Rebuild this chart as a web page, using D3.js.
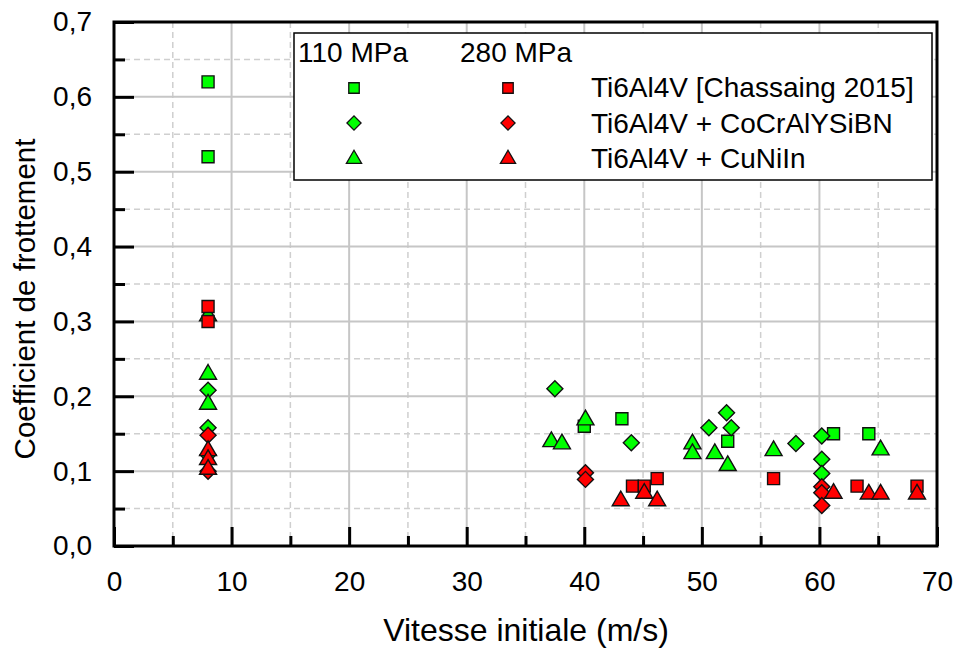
<!DOCTYPE html>
<html>
<head>
<meta charset="utf-8">
<script src="https://cdn.jsdelivr.net/npm/d3@7"></script>
<style>
  body { margin: 0; background: #fff; }
  svg text { font-family: "Liberation Sans", Arial, sans-serif; fill: #000; }
</style>
</head>
<body>
<svg id="chart" width="956" height="650"></svg>
<script>
// Data: [vitesse (m/s), coefficient]
const green_square = [[8, 0.62], [8, 0.52], [40, 0.16], [43.2, 0.17], [52.2, 0.14], [61.2, 0.15], [64.2, 0.15]];
const green_diamond = [[8, 0.208], [8, 0.158], [8, 0.122], [37.5, 0.21], [44, 0.138], [50.6, 0.158],
  [52.1, 0.178], [52.5, 0.158], [58, 0.137], [60.2, 0.147], [60.2, 0.116], [60.2, 0.097]];
const green_triangle = [[8, 0.31], [8, 0.232], [8, 0.192], [37.2, 0.142], [38.1, 0.139], [40.1, 0.171],
  [49.2, 0.139], [49.2, 0.126], [51.1, 0.126], [52.2, 0.11], [56.1, 0.13], [65.2, 0.131]];
const red_square = [[8, 0.32], [8, 0.30], [44.1, 0.08], [45.1, 0.08], [46.2, 0.09], [56.1, 0.09], [63.2, 0.08], [68.3, 0.08]];
const red_diamond = [[8, 0.148], [8, 0.10], [40.1, 0.098], [40.1, 0.089], [60.2, 0.079], [60.2, 0.071], [60.2, 0.054]];
const red_triangle = [[8, 0.13], [8, 0.118], [8, 0.105], [43.1, 0.063], [45.1, 0.073], [46.2, 0.063],
  [61.2, 0.073], [64.2, 0.072], [65.2, 0.072], [68.3, 0.072]];

const materials = ["Ti6Al4V [Chassaing 2015]", "Ti6Al4V + CoCrAlYSiBN", "Ti6Al4V + CuNiIn"];
const pressures = ["110 MPa", "280 MPa"];

const xMajor = [0, 10, 20, 30, 40, 50, 60, 70];
const xMinor = [5, 15, 25, 35, 45, 55, 65];
const yMajor = [0, 0.1, 0.2, 0.3, 0.4, 0.5, 0.6, 0.7];
const yMinor = [0.05, 0.15, 0.25, 0.35, 0.45, 0.55, 0.65];

const GREEN = "#00ff00", RED = "#ff0000";

const svg = d3.select("#chart");
const pLeft = 114, pRight = 937, pTop = 22, pBottom = 546;

const x = d3.scaleLinear().domain([0, 70]).range([pLeft, pRight]);
const y = d3.scaleLinear().domain([0, 0.7]).range([pBottom, pTop]);
const fmt = v => d3.format(".1f")(v).replace(".", ",");

// grid
const grid = svg.append("g");
grid.selectAll(".vmin").data(xMinor).enter().append("line")
  .attr("x1", d => x(d)).attr("x2", d => x(d)).attr("y1", pTop).attr("y2", pBottom)
  .attr("stroke", "#cfcfcf").attr("stroke-width", 1.5).attr("stroke-dasharray", "6,4");
grid.selectAll(".hmin").data(yMinor).enter().append("line")
  .attr("y1", d => y(d)).attr("y2", d => y(d)).attr("x1", pLeft).attr("x2", pRight)
  .attr("stroke", "#cfcfcf").attr("stroke-width", 1.5).attr("stroke-dasharray", "6,4");
grid.selectAll(".vmaj").data(xMajor.slice(1, -1)).enter().append("line")
  .attr("x1", d => x(d)).attr("x2", d => x(d)).attr("y1", pTop).attr("y2", pBottom)
  .attr("stroke", "#c6c6c6").attr("stroke-width", 2);
grid.selectAll(".hmaj").data(yMajor.slice(1, -1)).enter().append("line")
  .attr("y1", d => y(d)).attr("y2", d => y(d)).attr("x1", pLeft).attr("x2", pRight)
  .attr("stroke", "#c6c6c6").attr("stroke-width", 2);

// legend box (drawn above grid)
const lg = svg.append("g");
lg.append("rect").attr("x", 294).attr("y", 33).attr("width", 638).attr("height", 147)
  .attr("fill", "#fff").attr("stroke", "#000").attr("stroke-width", 1.5);

// axes
svg.append("g").attr("transform", `translate(0,${pBottom})`)
  .call(d3.axisBottom(x).tickValues(xMajor).tickSize(-19).tickPadding(25).tickFormat(d3.format("d")));
svg.append("g").attr("transform", `translate(0,${pBottom})`)
  .call(d3.axisBottom(x).tickValues(xMinor).tickSize(-10).tickFormat(""));
svg.append("g").attr("transform", `translate(${pLeft},0)`)
  .call(d3.axisLeft(y).tickValues(yMajor).tickSize(-20).tickPadding(22).tickFormat(fmt));
svg.append("g").attr("transform", `translate(${pLeft},0)`)
  .call(d3.axisLeft(y).tickValues(yMinor).tickSize(-11).tickFormat(""));
svg.selectAll(".domain").remove();
svg.selectAll(".tick line").attr("stroke", "#000").attr("stroke-width", 3);
svg.selectAll(".tick text").style("font-size", "28px").attr("fill", "#000");

// frame
svg.append("rect").attr("x", pLeft).attr("y", pTop).attr("width", pRight - pLeft).attr("height", pBottom - pTop)
  .attr("fill", "none").attr("stroke", "#000").attr("stroke-width", 3);

// markers
const shapes = {
  square: d3.symbol().type(d3.symbolSquare).size(144),
  diamond: d3.symbol().type(d3.symbolSquare).size(128),
  triangle: d3.symbol().type(d3.symbolTriangle).size(125)
};
function drawSeries(data, shape, color) {
  svg.append("g").selectAll("path").data(data).enter().append("path")
    .attr("d", shapes[shape]())
    .attr("transform", d => `translate(${x(d[0])},${y(d[1]) + (shape === "triangle" ? 2 : 0)})` + (shape === "diamond" ? " rotate(45)" : ""))
    .attr("fill", color).attr("stroke", "#111").attr("stroke-width", 1.4);
}
drawSeries(green_square, "square", GREEN);
drawSeries(green_diamond, "diamond", GREEN);
drawSeries(green_triangle, "triangle", GREEN);
drawSeries(red_square, "square", RED);
drawSeries(red_diamond, "diamond", RED);
drawSeries(red_triangle, "triangle", RED);

// legend contents
lg.raise();
lg.selectAll(".ph").data(pressures).enter().append("text")
  .attr("x", (d, i) => i === 0 ? 298 : 460).attr("y", 62)
  .style("font-size", "28px").text(d => d);
const legShapes = [
  d3.symbol().type(d3.symbolSquare).size(110),
  d3.symbol().type(d3.symbolSquare).size(100),
  d3.symbol().type(d3.symbolTriangle).size(100)
];
const rowY = [88, 123, 157];
materials.forEach((m, i) => {
  [[354, GREEN], [508, RED]].forEach(([cx, col]) => {
    lg.append("path").attr("d", legShapes[i]())
      .attr("transform", `translate(${cx},${rowY[i] + (i === 2 ? 2 : 0)})` + (i === 1 ? " rotate(45)" : ""))
      .attr("fill", col).attr("stroke", "#111").attr("stroke-width", 1.3);
  });
  lg.append("text").attr("x", 591).attr("y", rowY[i] + 9 + i).style("font-size", "28px").text(m);
});

// axis titles
svg.append("text").attr("x", 526).attr("y", 641).attr("text-anchor", "middle")
  .style("font-size", "32px").text("Vitesse initiale (m/s)");
svg.append("text").attr("transform", "translate(35,299) rotate(-90)").attr("text-anchor", "middle")
  .style("font-size", "29.5px").text("Coefficient de frottement");
</script>
</body>
</html>
